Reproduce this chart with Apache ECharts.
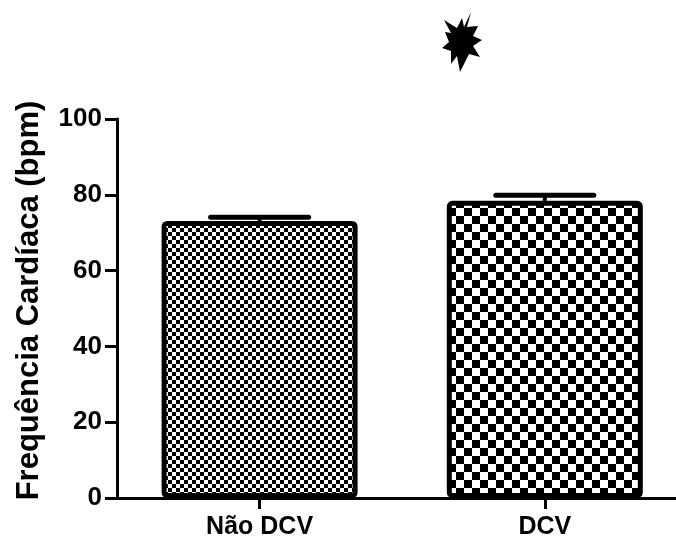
<!DOCTYPE html>
<html>
<head>
<meta charset="utf-8">
<script src="https://cdn.jsdelivr.net/npm/echarts@6/dist/echarts.min.js"></script>
<style>
  html, body { margin: 0; padding: 0; background: #fff; }
  #chart { width: 676px; height: 540px; }
</style>
</head>
<body>
<div id="chart"></div>
<script>
const categories = ['Não DCV', 'DCV'];
const means = [73.1, 78.4];
const errors = [1.0, 1.5];
const yTicks = [0, 20, 40, 60, 80, 100];

function checker(cell) {
  const c = document.createElement('canvas');
  c.width = cell * 2; c.height = cell * 2;
  const g = c.getContext('2d');
  g.fillStyle = '#fff'; g.fillRect(0, 0, cell * 2, cell * 2);
  g.fillStyle = '#000';
  g.fillRect(0, 0, cell, cell);
  g.fillRect(cell, cell, cell, cell);
  return c;
}
const patterns = [checker(4), checker(8)];

const FONT = '"Liberation Sans", Arial, sans-serif';
const chart = echarts.init(document.getElementById('chart'));

const starPts = [
  [10,-30],[6,-15],[17,-16],[12,-6],[21,-2],[12,4],[19,15],[8,12],
  [-1,30],[-4,14],[-10,22],[-10,9],[-19,6],[-12,0],[-16,-10],[-10,-9],
  [-17,-22],[-4,-14],[1,-24],[3,-15]
];
const catIdx = categories.map((c, i) => i);

chart.setOption({
  animation: false,
  backgroundColor: '#fff',
  grid: { left: 117, right: 0, top: 119, bottom: 41, containLabel: false },
  xAxis: {
    type: 'value',
    min: -0.5, max: 1.46,
    splitLine: { show: false },
    axisLine: { show: true, onZero: false, lineStyle: { color: '#000', width: 3 } },
    axisTick: { show: true, customValues: catIdx, length: 11, lineStyle: { color: '#000', width: 3 } },
    axisLabel: {
      customValues: catIdx,
      formatter: v => categories[Math.round(v)],
      color: '#000', fontFamily: FONT, fontWeight: 'bold', fontSize: 25, margin: 17
    }
  },
  yAxis: {
    type: 'value',
    min: yTicks[0], max: yTicks[yTicks.length - 1], interval: 20,
    name: 'Frequência Cardíaca (bpm)',
    nameLocation: 'middle',
    nameGap: 72,
    nameRotate: 90,
    nameTextStyle: { color: '#000', fontFamily: FONT, fontWeight: 'bold', fontSize: 31, padding: [0, 0, 0, 16] },
    axisLine: { show: true, onZero: false, lineStyle: { color: '#000', width: 3 } },
    axisTick: { show: true, length: 12, lineStyle: { color: '#000', width: 3 } },
    axisLabel: { color: '#000', fontFamily: FONT, fontWeight: 'bold', fontSize: 26, margin: 15 },
    splitLine: { show: false }
  },
  series: [
    {
      type: 'bar',
      barWidth: 196,
      data: means.map((v, i) => ({
        value: [i, v],
        itemStyle: {
          color: { image: patterns[i], repeat: 'repeat' },
          borderColor: '#000', borderWidth: 5, borderRadius: 3
        }
      })),
      z: 2
    },
    {
      type: 'custom',
      z: 1,
      data: means.map((v, i) => [i, v, v + errors[i]]),
      renderItem: function (params, api) {
        const x = api.value(0);
        const lo = api.coord([x, api.value(1)]);
        const hi = api.coord([x, api.value(2)]);
        const half = 49;
        return {
          type: 'group',
          children: [
            { type: 'line', shape: { x1: lo[0], y1: lo[1], x2: hi[0], y2: hi[1] },
              style: { stroke: '#000', lineWidth: 4 } },
            { type: 'line', shape: { x1: hi[0] - half, y1: hi[1], x2: hi[0] + half, y2: hi[1] },
              style: { stroke: '#000', lineWidth: 5, lineCap: 'round' } }
          ]
        };
      }
    }
  ],
  graphic: [
    {
      type: 'polygon',
      left: 442, top: 12,
      shape: { points: starPts.map(p => [p[0] + 20, p[1] + 30]) },
      style: { fill: '#000' }
    }
  ]
});
</script>
</body>
</html>
